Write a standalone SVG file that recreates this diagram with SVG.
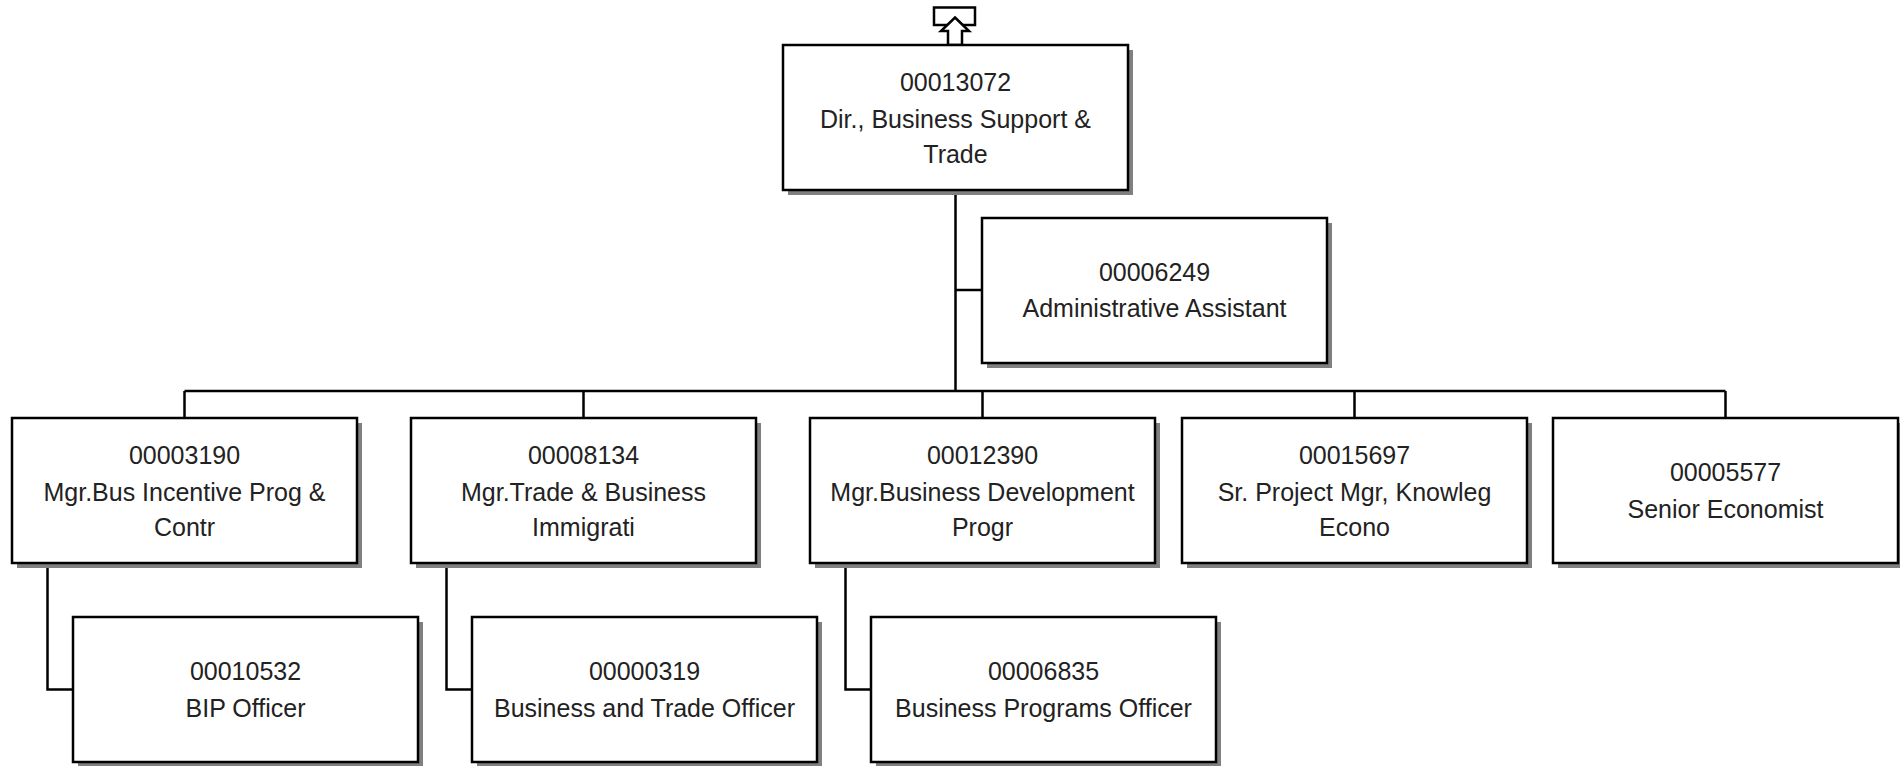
<svg xmlns="http://www.w3.org/2000/svg" width="1900" height="766" viewBox="0 0 1900 766">
<defs>
<style>
.sh{fill:#808080;stroke:none}
.bx{fill:#fff;stroke:#000;stroke-width:2.5}
.t{font-family:"Liberation Sans",Arial,sans-serif;font-size:25px;fill:#222;text-anchor:middle}
.cn{fill:none;stroke:#000;stroke-width:2.5}
</style>
</defs>
<rect width="1900" height="766" fill="#fff"/>
<g id="connectors">
<path class="cn" d="M955.5 190V391M955.5 290H982M184.5 391H1725.5M184.5 391V418M583.5 391V418M982.5 391V418M1354.5 391V418M1725.5 391V418"/>
<path class="cn" d="M47.5 563V689.5H73M446.5 563V689.5H472M845.5 563V689.5H871"/>
</g>
<g id="up-marker">
<rect x="934" y="7.5" width="41" height="17.5" fill="#fff" stroke="#000" stroke-width="2.5"/>
<path d="M955 17.5L969 31H962V45H948V31H941Z" fill="#fff" stroke="#000" stroke-width="2.5" stroke-linejoin="miter"/>
</g>
<g id="n00013072">
<rect class="sh" x="788" y="50" width="345" height="145"/>
<rect class="bx" x="783" y="45" width="345" height="145"/>
<text class="t" x="955.5" y="91">00013072</text>
<text class="t" x="955.5" y="128">Dir., Business Support &amp;</text>
<text class="t" x="955.5" y="163">Trade</text>
</g>
<g id="n00006249">
<rect class="sh" x="987" y="223" width="345" height="145"/>
<rect class="bx" x="982" y="218" width="345" height="145"/>
<text class="t" x="1154.5" y="281">00006249</text>
<text class="t" x="1154.5" y="317">Administrative Assistant</text>
</g>
<g id="n00003190">
<rect class="sh" x="17" y="423" width="345" height="145"/>
<rect class="bx" x="12" y="418" width="345" height="145"/>
<text class="t" x="184.5" y="464">00003190</text>
<text class="t" x="184.5" y="501">Mgr.Bus Incentive Prog &amp;</text>
<text class="t" x="184.5" y="536">Contr</text>
</g>
<g id="n00008134">
<rect class="sh" x="416" y="423" width="345" height="145"/>
<rect class="bx" x="411" y="418" width="345" height="145"/>
<text class="t" x="583.5" y="464">00008134</text>
<text class="t" x="583.5" y="501">Mgr.Trade &amp; Business</text>
<text class="t" x="583.5" y="536">Immigrati</text>
</g>
<g id="n00012390">
<rect class="sh" x="815" y="423" width="345" height="145"/>
<rect class="bx" x="810" y="418" width="345" height="145"/>
<text class="t" x="982.5" y="464">00012390</text>
<text class="t" x="982.5" y="501">Mgr.Business Development</text>
<text class="t" x="982.5" y="536">Progr</text>
</g>
<g id="n00015697">
<rect class="sh" x="1187" y="423" width="345" height="145"/>
<rect class="bx" x="1182" y="418" width="345" height="145"/>
<text class="t" x="1354.5" y="464">00015697</text>
<text class="t" x="1354.5" y="501">Sr. Project Mgr, Knowleg</text>
<text class="t" x="1354.5" y="536">Econo</text>
</g>
<g id="n00005577">
<rect class="sh" x="1558" y="423" width="345" height="145"/>
<rect class="bx" x="1553" y="418" width="345" height="145"/>
<text class="t" x="1725.5" y="481">00005577</text>
<text class="t" x="1725.5" y="518">Senior Economist</text>
</g>
<g id="n00010532">
<rect class="sh" x="78" y="622" width="345" height="145"/>
<rect class="bx" x="73" y="617" width="345" height="145"/>
<text class="t" x="245.5" y="680">00010532</text>
<text class="t" x="245.5" y="717">BIP Officer</text>
</g>
<g id="n00000319">
<rect class="sh" x="477" y="622" width="345" height="145"/>
<rect class="bx" x="472" y="617" width="345" height="145"/>
<text class="t" x="644.5" y="680">00000319</text>
<text class="t" x="644.5" y="717">Business and Trade Officer</text>
</g>
<g id="n00006835">
<rect class="sh" x="876" y="622" width="345" height="145"/>
<rect class="bx" x="871" y="617" width="345" height="145"/>
<text class="t" x="1043.5" y="680">00006835</text>
<text class="t" x="1043.5" y="717">Business Programs Officer</text>
</g>
</svg>
